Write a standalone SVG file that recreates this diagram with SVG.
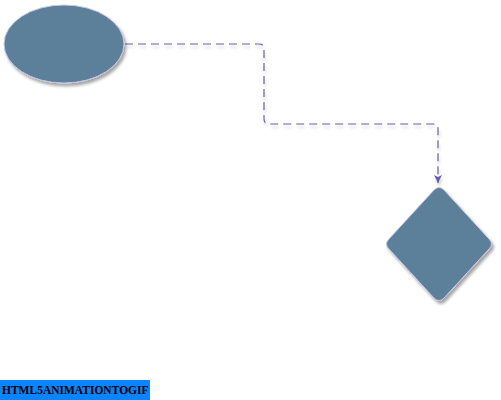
<svg xmlns="http://www.w3.org/2000/svg" width="501" height="400" viewBox="0 0 501 400">
<defs>
<filter id="sh" x="-20%" y="-20%" width="150%" height="150%">
<feGaussianBlur in="SourceAlpha" stdDeviation="1.8"/>
<feOffset dx="2" dy="3" result="b"/>
<feComponentTransfer><feFuncA type="linear" slope="0.35"/></feComponentTransfer>
<feMerge><feMergeNode/><feMergeNode in="SourceGraphic"/></feMerge>
</filter>
<filter id="lsh" x="-10%" y="-10%" width="120%" height="130%">
<feGaussianBlur in="SourceAlpha" stdDeviation="1.5"/>
<feOffset dx="1" dy="3"/>
<feComponentTransfer><feFuncA type="linear" slope="0.2"/></feComponentTransfer>
<feMerge><feMergeNode/><feMergeNode in="SourceGraphic"/></feMerge>
</filter>
<marker id="arr" markerWidth="10" markerHeight="10" refX="8" refY="5" orient="auto" markerUnits="userSpaceOnUse">
<path d="M0,1 L8,5 L0,9 L2,5 Z" fill="#6a5aaa"/>
</marker>
<style>
.node{fill:#5b7f9a;stroke:#c9c3e6;stroke-width:1;}
.edge{fill:none;stroke:#6a5aaa;stroke-width:1.2;stroke-dasharray:8,5;}
.lbl{font-family:"Liberation Serif",serif;font-weight:bold;font-size:11.5px;fill:#000;}
</style>
</defs>
<g id="connectors" filter="url(#lsh)">
<path class="edge" d="M125,44 H259 Q264,44 264,49 V119 Q264,124 269,124 H433 Q438,124 438,129 V183" marker-end="url(#arr)"/>
</g>
<g id="node-ellipse" filter="url(#sh)">
<ellipse class="node" cx="64" cy="44" rx="60" ry="39"/>
</g>
<g id="node-diamond" filter="url(#sh)">
<path class="node" d="M434,190 Q439,185 444,190 L489,239 Q494,244 489,249 L444,298 Q439,303 434,298 L389,249 Q384,244 389,239 Z"/>
</g>
<g id="label">
<rect x="0" y="380" width="150" height="20" fill="#0a84ff"/>
<text class="lbl" x="2" y="394">HTML5ANIMATIONTOGIF</text>
</g>
</svg>
